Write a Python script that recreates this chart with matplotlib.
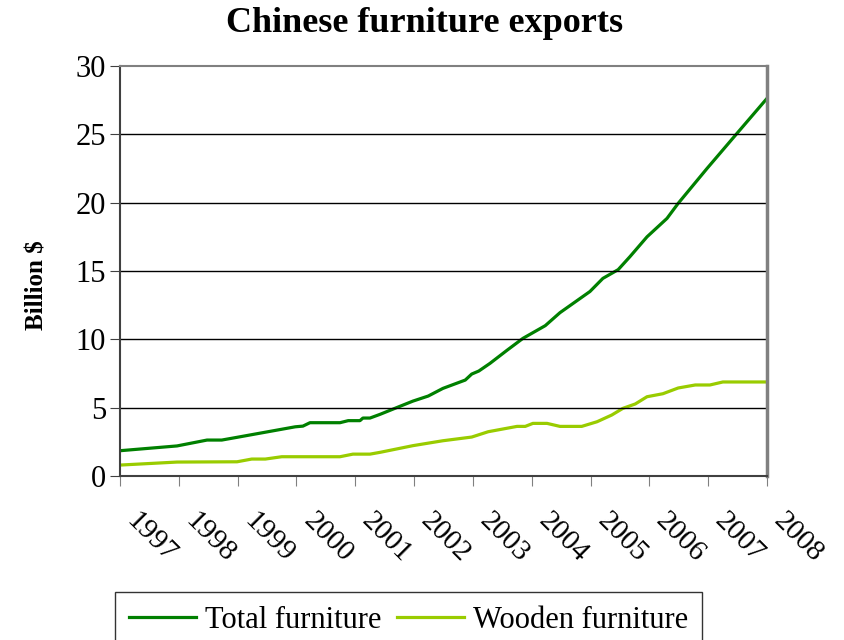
import matplotlib
matplotlib.use("Agg")
import matplotlib.pyplot as plt
import matplotlib.transforms as mtransforms

# fractional years and values (billion $)
total_x = [1997.0, 1997.97, 1998.48, 1998.73, 1998.99, 1999.98, 2000.11, 2000.23,
           2000.74, 2000.88, 2001.08, 2001.13, 2001.25, 2001.42, 2001.76, 2001.98,
           2002.24, 2002.49, 2002.87, 2002.98, 2003.10, 2003.29, 2003.58, 2003.85,
           2004.23, 2004.48, 2004.99, 2005.21, 2005.47, 2005.67, 2005.96, 2006.30,
           2006.49, 2006.98, 2007.49, 2008.0]
total_y = [1.85, 2.2, 2.63, 2.63, 2.83, 3.6, 3.65, 3.9,
           3.9, 4.05, 4.05, 4.24, 4.24, 4.51, 5.1, 5.48,
           5.85, 6.41, 7.02, 7.46, 7.68, 8.24, 9.2, 10.07,
           11.0, 11.95, 13.5, 14.46, 15.1, 16.05, 17.5, 18.85,
           19.95, 22.5, 25.07, 27.63]

wood_x = [1997.0, 1997.97, 1998.99, 1999.24, 1999.47, 1999.75, 2000.74, 2000.96,
          2001.25, 2001.42, 2001.98, 2002.49, 2002.98, 2003.26, 2003.75, 2003.89,
          2004.02, 2004.26, 2004.48, 2004.85, 2005.11, 2005.36, 2005.55, 2005.76,
          2005.96, 2006.23, 2006.49, 2006.78, 2007.03, 2007.25, 2008.0]
wood_y = [0.8, 1.02, 1.04, 1.24, 1.24, 1.41, 1.41, 1.6,
          1.6, 1.73, 2.22, 2.58, 2.85, 3.24, 3.63, 3.63,
          3.85, 3.85, 3.63, 3.63, 3.97, 4.46, 4.95, 5.27,
          5.8, 6.02, 6.44, 6.66, 6.66, 6.88, 6.88]

years = list(range(1997, 2009))
yticks = [0, 5, 10, 15, 20, 25, 30]

plt.rcParams['font.family'] = ['Liberation Serif', 'DejaVu Serif']

fig = plt.figure(figsize=(8.44, 6.4), dpi=100)
ax = fig.add_axes([120/844, 1-476/640, (767-120)/844, (476-66)/640])

ax.plot(total_x, total_y, color='#008000', lw=2.3, label='Total furniture')
ax.plot(wood_x, wood_y, color='#99CC00', lw=2.3, label='Wooden furniture')

ax.set_xlim(1997, 2008)
ax.set_ylim(0, 30)
ax.set_yticks(yticks)
ax.set_xticks(years)
ax.set_xticklabels([str(y) for y in years], rotation=-45, ha='left', va='top',
                   rotation_mode='anchor')
ax.tick_params(axis='x', length=7, color='#808080', pad=16, labelsize=21)
ax.tick_params(axis='y', length=7, color='#404040', pad=3, labelsize=22)
shift = mtransforms.ScaledTranslation(20/100, 0, fig.dpi_scale_trans)
for lab in ax.get_xticklabels():
    lab.set_transform(lab.get_transform() + shift)
for y in yticks[1:-1]:
    ax.axhline(y, color='black', lw=1)

for s in ['top', 'right']:
    ax.spines[s].set_color('#808080')
ax.spines['right'].set_linewidth(2.5)
ax.spines['top'].set_linewidth(1.5)
ax.spines['left'].set_color('#404040')
ax.spines['left'].set_linewidth(1.5)
ax.spines['bottom'].set_color('#404040')
ax.spines['bottom'].set_linewidth(1.5)

ax.set_ylabel('Billion $', fontsize=18, fontweight='bold')
ax.yaxis.set_label_coords(-0.11, 0.466)
fig.text(0.503, 1-24/640, 'Chinese furniture exports', ha='center', va='center',
         fontsize=26, fontweight='bold')

leg = fig.legend(loc='upper left', bbox_to_anchor=(115/844, 1-592/640), ncol=2,
                 fontsize=22, frameon=True, fancybox=False, edgecolor='black',
                 handlelength=2.2, columnspacing=0.5, handletextpad=0.3,
                 borderpad=0.45, borderaxespad=0)
leg.get_frame().set_linewidth(1.0)

fig.savefig('out.png', dpi=100)
